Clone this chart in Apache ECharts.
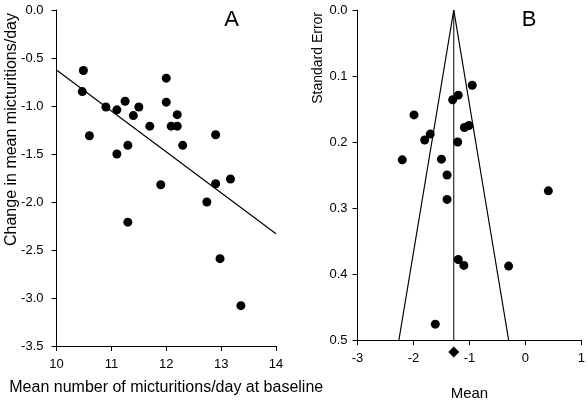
<!DOCTYPE html>
<html><head><meta charset="utf-8">
<script src="https://cdn.jsdelivr.net/npm/echarts@6/dist/echarts.min.js"></script>
<style>html,body{margin:0;padding:0;background:#fff}#c{width:588px;height:406px}</style>
</head><body><div id="c"></div>
<script>
// Panel A: baseline micturitions vs change
const aBaseline = [10.49, 10.47, 10.90, 11.10, 11.25, 11.50, 11.40, 10.60, 11.10, 11.30, 11.70, 12.00, 12.00, 12.20, 12.09, 12.20, 12.30, 12.90, 13.17, 12.90, 11.90, 12.74, 11.30, 12.98, 13.36];
const aChange   = [-0.63, -0.85, -1.01, -1.04, -0.95, -1.01, -1.10, -1.31, -1.50, -1.41, -1.21, -0.71, -0.96, -1.09, -1.21, -1.21, -1.41, -1.30, -1.76, -1.81, -1.82, -2.00, -2.21, -2.59, -3.08];
const aRegX = [10, 14];
const aRegY = [-0.625, -2.33];
// Panel B: funnel plot
const bMean = [-0.95, -1.20, -1.30, -1.99, -1.01, -1.09, -1.70, -1.80, -1.21, -2.20, -1.50, -1.40, 0.41, -1.40, -1.20, -1.10, -0.30, -1.61];
const bSE   = [0.114, 0.129, 0.136, 0.159, 0.175, 0.178, 0.188, 0.197, 0.200, 0.227, 0.226, 0.250, 0.274, 0.287, 0.378, 0.387, 0.388, 0.476];
const pooledMean = -1.28;
const pooledMarkerSE = 0.518;
const funnelX = [-2.26, -1.28, -0.30];
const funnelY = [0.5, 0, 0.5];
const meanLineY = [0, 0.5];

const FONT = '"Liberation Sans", Arial, sans-serif';
const black = '#000';
const axisCommon = {
  axisLine: {show: true, onZero: false, lineStyle: {color: black, width: 1}},
  axisTick: {show: true, inside: false, length: 5, lineStyle: {color: black}},
  splitLine: {show: false},
  axisLabel: {color: black, fontSize: 13, fontFamily: FONT}
};
const chart = echarts.init(document.getElementById('c'), null, {renderer: 'canvas'});
chart.setOption({
  animation: false,
  backgroundColor: '#fff',
  grid: [
    {left: 56.5, top: 10, width: 219.5, height: 336},
    {left: 357.5, top: 10, width: 225.5, height: 335.5}
  ],
  xAxis: [
    Object.assign({}, axisCommon, {gridIndex: 0, type: 'value', min: 10, max: 14, interval: 1,
      name: 'Mean number of micturitions/day at baseline', nameLocation: 'middle', nameGap: 34,
      nameTextStyle: {color: black, fontSize: 16, fontFamily: FONT},
      axisLabel: Object.assign({}, axisCommon.axisLabel, {margin: 12})}),
    Object.assign({}, axisCommon, {gridIndex: 1, type: 'value', min: -3, max: 1, interval: 1,
      name: 'Mean', nameLocation: 'middle', nameGap: 46,
      nameTextStyle: {color: black, fontSize: 15, fontFamily: FONT},
      axisLabel: Object.assign({}, axisCommon.axisLabel, {margin: 12})})
  ],
  yAxis: [
    Object.assign({}, axisCommon, {gridIndex: 0, type: 'value', min: -3.5, max: 0, interval: 0.5,
      axisLabel: Object.assign({}, axisCommon.axisLabel, {margin: 13, formatter: v => v.toFixed(1)})}),
    Object.assign({}, axisCommon, {gridIndex: 1, type: 'value', min: 0, max: 0.5, interval: 0.1, inverse: true,
      axisLabel: Object.assign({}, axisCommon.axisLabel, {margin: 10, formatter: v => v.toFixed(1)})})
  ],
  graphic: [
    {type: 'text', x: 12, y: 13, rotation: Math.PI / 2,
     style: {text: 'Change in mean micturitions/day', fill: black, font: '16px ' + FONT, align: 'right', verticalAlign: 'middle'}},
    {type: 'text', x: 318, y: 12, rotation: Math.PI / 2,
     style: {text: 'Standard Error', fill: black, font: '14px ' + FONT, align: 'right', verticalAlign: 'middle'}},
    {type: 'text', x: 231.5, y: 20, style: {text: 'A', fill: black, font: '22px ' + FONT, align: 'center', verticalAlign: 'middle'}},
    {type: 'text', x: 529, y: 20, style: {text: 'B', fill: black, font: '22px ' + FONT, align: 'center', verticalAlign: 'middle'}}
  ],
  series: [
    {type: 'line', xAxisIndex: 0, yAxisIndex: 0, data: aRegX.map((x, i) => [x, aRegY[i]]),
     symbol: 'none', lineStyle: {color: black, width: 1.2}, silent: true},
    {type: 'scatter', xAxisIndex: 0, yAxisIndex: 0, data: aBaseline.map((x, i) => [x, aChange[i]]),
     symbol: 'circle', symbolSize: 9, itemStyle: {color: black, opacity: 1}},
    {type: 'line', xAxisIndex: 1, yAxisIndex: 1, data: funnelX.map((x, i) => [x, funnelY[i]]),
     symbol: 'none', lineStyle: {color: black, width: 1.2}, silent: true},
    {type: 'line', xAxisIndex: 1, yAxisIndex: 1, data: meanLineY.map(y => [pooledMean, y]),
     symbol: 'none', lineStyle: {color: black, width: 1}, silent: true},
    {type: 'scatter', xAxisIndex: 1, yAxisIndex: 1, data: bMean.map((x, i) => [x, bSE[i]]),
     symbol: 'circle', symbolSize: 9, itemStyle: {color: black, opacity: 1}},
    {type: 'scatter', xAxisIndex: 1, yAxisIndex: 1, data: [[pooledMean, pooledMarkerSE]], clip: false,
     symbol: 'path://M0,-1L1,0L0,1L-1,0Z', symbolSize: [11, 11], itemStyle: {color: black, opacity: 1}}
  ]
});
</script></body></html>
